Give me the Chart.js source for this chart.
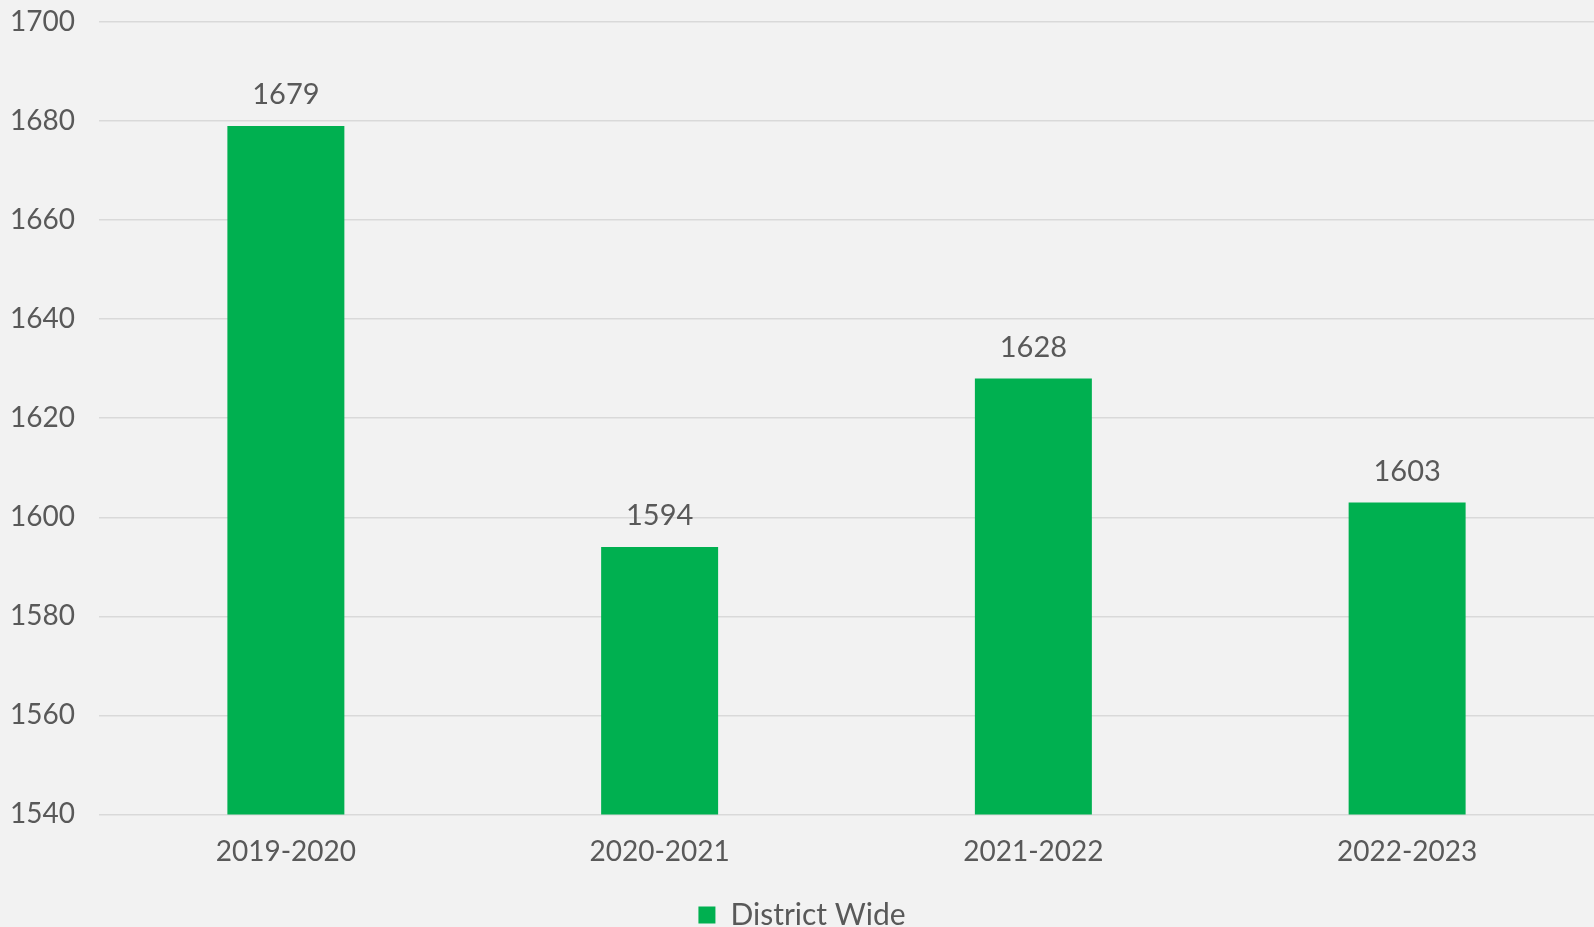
<!DOCTYPE html>
<html>
<head>
<meta charset="utf-8">
<script src="https://cdn.jsdelivr.net/npm/chart.js@4"></script>
<style>
  html, body { margin: 0; padding: 0; background: #f2f2f2; }
  #wrap { width: 1594px; height: 927px; }
</style>
</head>
<body>
<div id="wrap"><canvas id="chart"></canvas></div>
<script>
const years = ['2019-2020', '2020-2021', '2021-2022', '2022-2023'];
const districtWide = [1679, 1594, 1628, 1603];
const yMin = 1540, yMax = 1700, yStep = 20;

const textColor = '#595959';
const fontFamily = 'Lato, "Open Sans", sans-serif';

// draws the value above each bar
const valueLabels = {
    id: 'valueLabels',
    afterDatasetsDraw(chart) {
        const ctx = chart.ctx;
        const meta = chart.getDatasetMeta(0);
        ctx.save();
        ctx.fillStyle = textColor;
        ctx.font = '29px ' + fontFamily;
        ctx.textAlign = 'center';
        ctx.textBaseline = 'middle';
        meta.data.forEach((bar, i) => {
            ctx.fillText(String(districtWide[i]), bar.x, bar.y - 31);
        });
        ctx.restore();
    }
};

const ctx = document.getElementById('chart').getContext('2d');
const chart = new Chart(ctx, {
    type: 'bar',
    data: {
        labels: years,
        datasets: [
            {
                label: 'District Wide',
                data: districtWide,
                backgroundColor: '#00b050',
                borderWidth: 0,
                barPercentage: 0.313,
                categoryPercentage: 1
            }
        ]
    },
    options: {
        responsive: true,
        maintainAspectRatio: false,
        animation: false,
        layout: { padding: { top: 22, right: 0, left: 10, bottom: -13 } },
        scales: {
            x: {
                grid: { display: false },
                border: { display: false },
                ticks: {
                    color: textColor,
                    font: { family: fontFamily, size: 28 },
                    padding: 13
                }
            },
            y: {
                min: yMin,
                max: yMax,
                afterFit: s => { s.width = 89; },
                grid: { color: '#d9d9d9', lineWidth: 1.5, drawTicks: false },
                border: { display: false },
                ticks: {
                    stepSize: yStep,
                    color: textColor,
                    font: { family: fontFamily, size: 28 },
                    padding: 0,
                    crossAlign: 'far',
                    callback: v => String(v)
                }
            }
        },
        plugins: {
            legend: {
                position: 'bottom',
                labels: {
                    color: textColor,
                    font: { family: fontFamily, size: 30 },
                    boxWidth: 17,
                    boxHeight: 17,
                    padding: 18
                }
            },
            tooltip: { enabled: false }
        }
    },
    plugins: [valueLabels]
});
</script>
</body>
</html>
